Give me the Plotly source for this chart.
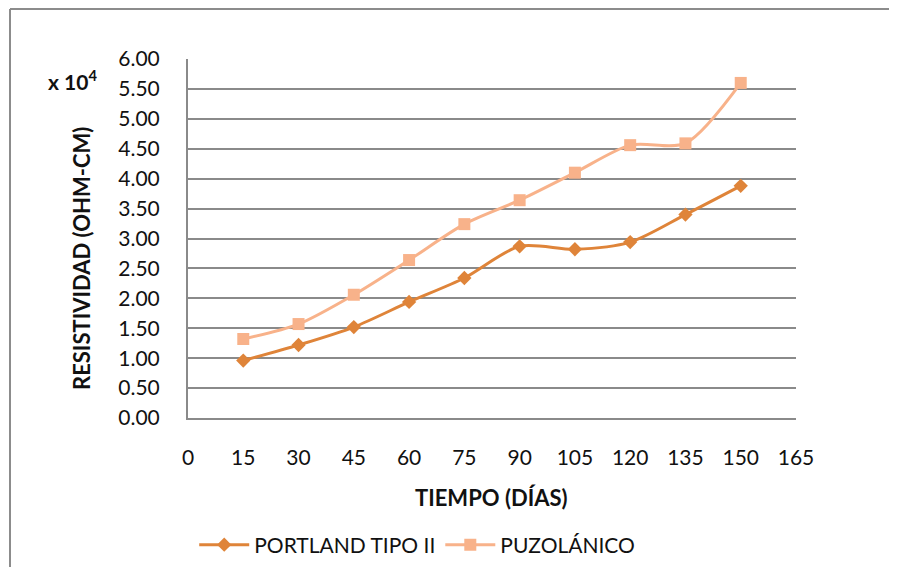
import plotly.graph_objects as go

dias = [15, 30, 45, 60, 75, 90, 105, 120, 135, 150]
portland = [0.96, 1.22, 1.52, 1.94, 2.34, 2.87, 2.82, 2.94, 3.40, 3.88]
puzolanico = [1.32, 1.57, 2.06, 2.64, 3.24, 3.64, 4.10, 4.56, 4.59, 5.60]
x_ticks = [0, 15, 30, 45, 60, 75, 90, 105, 120, 135, 150, 165]
y_ticks = [0, 0.5, 1, 1.5, 2, 2.5, 3, 3.5, 4, 4.5, 5, 5.5, 6]

FONT = "Lato"
GRID = "#8a8a8a"
OFF = 8  # page body margin

fig = go.Figure()
fig.add_trace(go.Scatter(
    x=dias, y=portland, name="PORTLAND TIPO II", mode="lines+markers",
    line=dict(color="#DF8439", width=3, shape="spline", smoothing=0.8),
    marker=dict(symbol="diamond", size=11, color="#DF8439"),
))
fig.add_trace(go.Scatter(
    x=dias, y=puzolanico, name="PUZOLÁNICO", mode="lines+markers",
    line=dict(color="#F8B28A", width=3, shape="spline", smoothing=0.8),
    marker=dict(symbol="square", size=12, color="#F8B28A"),
))

W, H = 897 - 2 * OFF, 575 - 2 * OFF
L, T = 188 - OFF, 59 - OFF
R = W - (796 - OFF)
B = H - (418 - OFF)

fig.update_layout(
    width=W, height=H,
    margin=dict(l=L, r=R, t=T, b=B, autoexpand=False),
    paper_bgcolor="white", plot_bgcolor="white",
    font=dict(family=FONT, size=21, color="#111111"),
    showlegend=True,
    legend=dict(orientation="h", x=0.377, xanchor="center", y=(418 - 545) / 359, yanchor="middle",
                font=dict(size=21, family=FONT), itemwidth=50, tracegroupgap=0,
                bgcolor="rgba(0,0,0,0)"),
    xaxis=dict(range=[0, 165], tickvals=x_ticks, ticktext=[str(v) for v in x_ticks],
               showgrid=False, showline=True, linecolor=GRID, linewidth=2,
               zeroline=False, ticks="", ticklabelstandoff=20,
               tickfont=dict(size=21, family=FONT)),
    yaxis=dict(range=[0, 6], tickvals=y_ticks, ticktext=[f"{v:.2f}" for v in y_ticks],
               showgrid=True, gridcolor=GRID, gridwidth=1.5,
               showline=True, linecolor=GRID, linewidth=2,
               zeroline=False, ticks="", ticklabelstandoff=22,
               tickfont=dict(size=21, family=FONT)),
    annotations=[
        dict(text="<b>TIEMPO (DÍAS)</b>", xref="paper", yref="paper",
             x=(491 - 188) / 608, y=(418 - 497) / 359, xanchor="center", yanchor="middle",
             showarrow=False, font=dict(size=22, family=FONT)),
        dict(text="<b>RESISTIVIDAD (OHM-CM)</b>", xref="paper", yref="paper",
             x=(81 - 188) / 608, y=(418 - 259) / 359, xanchor="center", yanchor="middle",
             textangle=-90, showarrow=False, font=dict(size=22, family=FONT)),
        dict(text="<b>x 10<sup>4</sup></b>", xref="paper", yref="paper",
             x=(72 - 188) / 608, y=(418 - 80) / 359, xanchor="center", yanchor="middle",
             showarrow=False, font=dict(size=21, family=FONT)),
    ],
    shapes=[
        dict(type="line", xref="paper", yref="paper",
             x0=(10 - 188) / 608, x1=(10 - 188) / 608,
             y0=(418 - 9) / 359, y1=(418 - 600) / 359,
             line=dict(color="#8c8c8c", width=2)),
        dict(type="line", xref="paper", yref="paper",
             x0=(10 - 188) / 608, x1=(920 - 188) / 608,
             y0=(418 - 9) / 359, y1=(418 - 9) / 359,
             line=dict(color="#8c8c8c", width=2)),
    ],
)

fig.write_html("out.html")
